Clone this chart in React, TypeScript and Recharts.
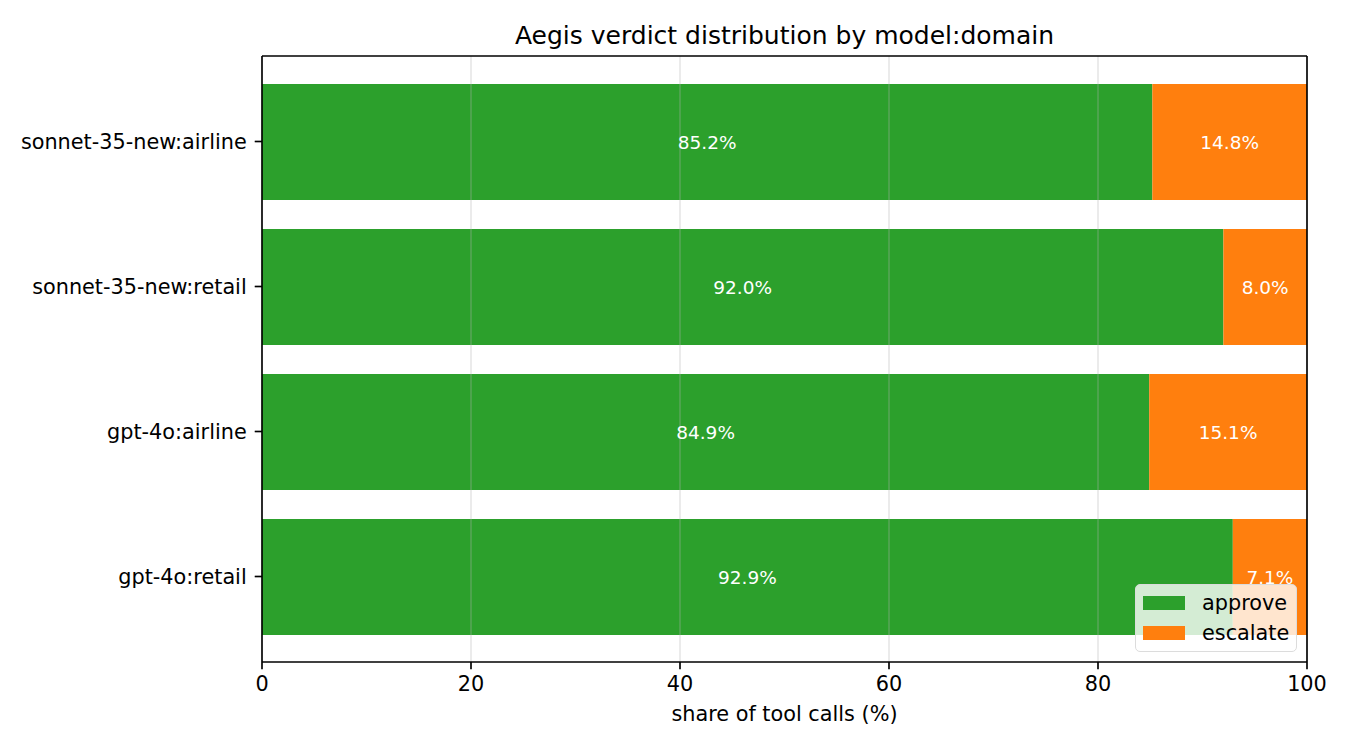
import { BarChart, Bar, XAxis, YAxis, LabelList, ReferenceLine, Legend } from 'recharts';

const CATEGORIES = ['sonnet-35-new:airline', 'sonnet-35-new:retail', 'gpt-4o:airline', 'gpt-4o:retail'];
const APPROVE = [85.2, 92.0, 84.9, 92.9];
const ESCALATE = [14.8, 8.0, 15.1, 7.1];
const X_TICKS = [0, 20, 40, 60, 80, 100];
const SERIES = [
  { key: 'approve', color: '#2ca02c' },
  { key: 'escalate', color: '#ff7f0e' },
];

const FONT = 'DejaVu Sans';
const TICK = { fontSize: 20.8, fontFamily: FONT, fill: '#000' };
const LINE = { stroke: '#000', strokeWidth: 1.67 };

const data = CATEGORIES.map((name, i) => ({ name, approve: APPROVE[i], escalate: ESCALATE[i] }));

const fmt = (v: any) => `${Number(v).toFixed(1)}%`;

const LegendBox = () => (
  <div
    style={{
      boxSizing: 'border-box',
      width: 162,
      height: 68,
      padding: '3px 0 0 7px',
      background: 'rgba(255,255,255,0.8)',
      border: '1.5px solid #dcdcdc',
      borderRadius: 5,
      fontFamily: FONT,
      fontSize: 20.8,
      color: '#000',
    }}
  >
    {SERIES.map((s) => (
      <div key={s.key} style={{ display: 'flex', alignItems: 'center', height: 30 }}>
        <span style={{ display: 'inline-block', width: 42, height: 14, background: s.color, marginRight: 17 }} />
        <span style={{ lineHeight: '30px' }}>{s.key}</span>
      </div>
    ))}
  </div>
);

const App = () => (
  <div style={{ position: 'absolute', left: 0, top: 0, width: 1350, height: 750, background: '#fff' }}>
    <div
      style={{
        position: 'absolute',
        left: 262,
        top: 23,
        width: 1045,
        textAlign: 'center',
        fontFamily: FONT,
        fontSize: 25,
        lineHeight: '25px',
        color: '#000',
      }}
    >
      Aegis verdict distribution by model:domain
    </div>
    <BarChart
      width={1350}
      height={750}
      data={data}
      layout="vertical"
      margin={{ top: 55, right: 42, bottom: 0, left: 0 }}
    >
      <XAxis
        type="number"
        domain={[0, 100]}
        ticks={X_TICKS}
        allowDataOverflow
        height={88}
        tick={TICK}
        tickSize={7.3}
        tickMargin={7}
        axisLine={LINE}
        tickLine={LINE}
        label={{
          value: 'share of tool calls (%)',
          position: 'insideBottom',
          offset: 29,
          style: { fontSize: 20.8, fontFamily: FONT, fill: '#000' },
        }}
      />
      {/* top spine */}
      <XAxis
        xAxisId="top"
        orientation="top"
        type="number"
        domain={[0, 100]}
        height={1}
        tick={false}
        tickLine={false}
        axisLine={LINE}
      />
      <YAxis
        type="category"
        dataKey="name"
        width={262}
        padding={{ top: 13, bottom: 13 }}
        tick={TICK}
        tickSize={7.3}
        tickMargin={8}
        axisLine={LINE}
        tickLine={LINE}
      />
      {/* right spine */}
      <YAxis
        yAxisId="right"
        orientation="right"
        type="category"
        dataKey="name"
        width={1}
        tick={false}
        tickLine={false}
        axisLine={LINE}
      />
      {SERIES.map((s) => (
        <Bar key={s.key} dataKey={s.key} stackId="v" fill={s.color} barSize={116} isAnimationActive={false}>
          <LabelList
            dataKey={s.key}
            position="center"
            formatter={fmt}
            style={{ fill: '#fff', fontSize: 18.5, fontFamily: FONT }}
          />
        </Bar>
      ))}
      {X_TICKS.slice(1, -1).map((t) => (
        <ReferenceLine key={t} x={t} stroke="#b0b0b0" strokeOpacity={0.3} strokeWidth={1.67} />
      ))}
      <Legend
        layout="vertical"
        align="center"
        verticalAlign="middle"
        content={() => <LegendBox />}
        wrapperStyle={{ left: 1135, top: 584, width: 162, right: 'auto', bottom: 'auto' }}
      />
    </BarChart>
  </div>
);

export default App;
